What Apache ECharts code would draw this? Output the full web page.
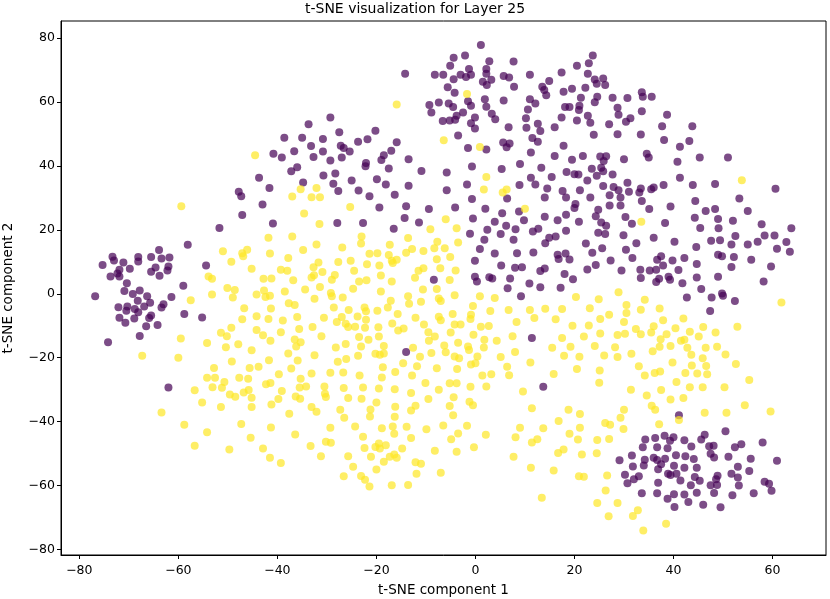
<!DOCTYPE html>
<html>
<head>
<meta charset="utf-8">
<script src="https://cdn.jsdelivr.net/npm/echarts@6/dist/echarts.min.js"></script>
<style>
  html, body { margin: 0; padding: 0; background: #fff; }
  #main { width: 830px; height: 599px; }
</style>
</head>
<body>
<div id="main"></div>
<script>
// t-SNE points, one array per label
const label0 = [
  [-47.8,31.9],[-47.3,30.5],
  [-14.2,68.8],[-8.2,68.5],[-6.5,68.5],[-9.3,59.0],[-7.4,59.8],[-8.9,56.7],[-6.6,54.0],
  [-29.3,55.1],[-33.7,53.0],[-27.5,50.5],[-20.2,51.0],[-38.6,48.8],[-35.0,48.8],[-30.8,48.4],[-21.8,48.3],[-23.7,47.5],[-15.9,47.4],
  [-33.2,46.2],[-27.2,46.3],[-26.6,45.6],[-25.4,44.5],[-36.6,44.6],[-30.8,44.5],[-40.8,43.8],[-39.1,42.6],[-32.7,42.8],[-29.3,41.7],[-27.0,42.6],
  [-17.0,44.7],[-18.5,43.3],[-19.0,41.8],[-13.5,42.1],[-22.1,40.9],[-22.2,39.9],[-17.5,39.2],[-10.9,38.4],[-36.0,39.6],[-37.2,38.3],
  [-43.7,36.3],[-30.7,37.0],[-28.3,37.6],[-25.0,35.4],[-19.9,35.8],[-34.8,34.8],[-28.7,34.4],[-18.1,34.2],[-13.5,33.8],[-41.6,33.1],
  [-27.7,32.1],[-23.6,32.3],[-21.4,30.5],[-16.3,31.0],
  [1.1,77.8],[-4.4,73.8],[-2.1,74.5],[-5.1,71.3],[2.8,72.7],[7.7,72.6],[-1.3,70.3],[2.2,70.3],[-3.0,68.5],[-0.9,68.5],
  [2.2,68.8],[-1.9,67.8],[5.7,68.1],[6.8,67.6],[11.0,68.5],[-4.4,67.1],[1.5,66.3],[3.2,66.9],[2.3,65.3],[-5.6,64.6],
  [7.8,64.7],[14.9,66.5],[13.5,64.7],[13.9,63.7],[14.3,62.1],[17.4,69.2],[20.5,71.3],[23.7,74.5],[22.9,72.1],[22.7,68.8],
  [24.1,67.0],[25.8,67.3],[24.5,65.7],[26.2,65.3],[17.8,63.2],[19.5,64.1],[22.2,64.4],[-4.2,62.9],[1.9,60.8],[5.7,60.4],
  [11.0,60.8],[12.1,59.5],[21.3,61.3],[24.6,61.6],[24.1,59.9],[27.7,61.3],[30.7,61.2],[-5.4,59.5],[-4.5,58.4],[-1.5,60.2],
  [-0.9,58.8],[2.2,58.5],[10.6,57.6],[18.1,58.4],[19.0,58.4],[21.0,58.8],[20.9,57.5],[28.7,58.2],[-2.5,56.7],[-3.8,55.7],
  [3.3,56.3],[10.2,54.9],[17.4,55.1],[22.7,55.7],[28.9,56.0],[31.3,54.9],[30.4,53.8],[-5.2,54.2],[-4.1,54.4],[-0.1,55.1],
  [4.0,54.6],[20.5,54.2],[23.2,53.5],[-0.9,53.3],[-0.1,51.7],[6.7,52.1],[10.3,51.9],[12.6,53.2],[13.1,50.9],[16.0,52.1],
  [27.0,53.0],[23.9,49.7],[28.7,49.9],[-3.5,49.5],[11.5,48.7],[12.6,47.5],[5.6,47.3],[6.9,47.0],[6.3,45.8],[-1.5,45.6],
  [2.2,45.1],[11.2,44.2],[17.8,46.3],[16.0,43.1],[19.5,41.9],[21.7,43.1],[25.2,42.9],[26.4,43.0],[25.9,41.5],[30.0,42.1],
  [9.0,40.6],[13.3,39.4],[5.3,39.0],[-0.7,39.8],[-5.8,37.9],[18.4,38.1],[20.0,37.4],[20.8,37.3],[23.5,39.1],[25.4,39.4],
  [25.8,38.3],[27.7,37.3],[24.5,36.9],[11.2,36.3],[15.4,36.5],[22.6,35.4],[30.7,34.7],[12.1,34.2],[8.9,34.0],[-1.7,34.2],
  [-5.8,32.4],[14.5,32.9],[17.6,32.1],[21.1,32.4],[25.8,33.7],[27.9,33.4],[27.1,30.8],[28.9,32.4],[31.0,31.9],[-0.7,29.6],
  [6.4,29.8],[14.0,30.1],[18.3,30.1],[23.2,30.1],[29.3,30.1],
  [33.6,63.0],[33.8,61.6],[35.6,61.6],[33.6,57.1],[38.7,56.0],[37.7,52.4],[43.8,52.4],[33.4,49.8],[38.1,48.1],[41.3,46.0],
  [43.2,47.8],[34.6,43.8],[35.0,42.6],[40.8,41.3],[45.3,42.6],[51.0,42.6],[41.3,36.3],[38.0,34.0],[43.9,34.0],[48.4,34.3],
  [60.6,32.8],[33.4,32.9],[33.1,31.7],[35.5,32.7],[36.0,33.2],[53.3,29.8],[44.4,29.0],[33.6,29.0],
  [-47.1,24.6],[-51.7,20.6],[-58.1,15.3],[-73.3,11.6],[-73.0,10.4],[-75.3,9.0],[-71.1,9.8],[-68.1,11.5],[-68.1,10.1],[-65.5,11.5],
  [-63.9,13.7],[-63.4,11.0],[-61.8,11.3],[-69.8,7.8],[-71.9,7.5],[-72.3,6.3],[-73.7,5.4],[-71.9,5.4],[-65.5,6.9],[-64.6,8.2],
  [-62.0,8.5],[-62.2,7.3],[-63.8,5.6],[-54.4,8.8],[-70.4,3.3],[-59.0,2.5],[-70.9,0.9],[-67.8,1.0],[-69.2,-0.1],[-66.3,-0.8],
  [-76.8,-0.8],[-61.4,-1.0],[-68.2,-2.2],[-65.7,-2.8],[-63.0,-3.3],[-63.4,-4.3],[-72.1,-4.2],[-70.3,-4.0],[-66.9,-4.0],[-70.5,-5.3],
  [-68.8,-4.8],[-68.1,-5.8],[-65.5,-6.8],[-65.9,-7.6],[-71.9,-7.5],[-68.9,-7.7],[-70.7,-9.1],[-66.5,-10.2],[-64.2,-9.8],[-58.8,-6.3],
  [-55.2,-7.4],[-67.8,-13.2],[-74.2,-15.2],
  [-43.0,27.9],[-40.9,22.0],[-27.9,22.1],[-22.7,22.1],[-19.4,27.0],[-14.0,27.4],[-14.3,23.7],[-9.4,26.5],[-11.4,22.3],[-16.5,20.3],
  [-8.4,4.4],[-14.0,-18.2],
  [-4.1,27.0],[2.0,26.6],[5.4,25.2],[8.8,25.7],[20.2,28.1],[20.0,26.8],[24.8,26.3],[27.1,27.6],[29.3,27.6],
  [-0.5,23.5],[3.9,22.5],[6.2,21.3],[9.8,23.0],[14.0,24.1],[16.6,23.0],[18.3,24.7],[20.9,22.5],[24.3,24.2],[25.4,22.3],
  [26.4,21.3],[30.3,24.0],[31.6,21.9],[-1.1,18.8],[2.4,20.0],[5.1,18.7],[8.1,20.2],[11.6,19.5],[12.7,20.3],[18.3,19.7],
  [24.8,19.1],[26.2,18.7],[29.9,18.3],[1.8,16.9],[7.7,16.9],[14.9,17.5],[16.2,17.9],[14.1,15.8],[22.3,15.7],[25.6,14.2],
  [23.6,12.8],[30.4,13.8],[0.9,14.0],[3.9,12.6],[8.4,12.7],[11.7,12.9],[16.6,12.2],[18.2,12.6],[16.8,10.9],[19.0,10.7],
  [31.7,11.2],[-0.1,10.3],[5.2,8.8],[8.0,8.1],[9.4,8.3],[13.1,7.1],[14.0,7.9],[18.0,6.2],[19.7,4.5],[22.6,7.6],
  [24.3,9.0],[27.3,10.4],[29.5,7.3],[-0.1,5.3],[0.3,3.8],[2.8,5.2],[3.4,4.8],[7.0,4.8],[10.9,3.2],[6.5,1.7],
  [13.1,2.0],[17.2,1.9],[9.2,-0.8],[11.4,-13.8],
  [35.1,26.5],[39.4,27.3],[46.5,25.9],[48.4,26.5],[49.0,23.4],[55.0,25.9],[44.3,23.8],[52.0,22.8],[38.3,22.1],[45.4,20.6],
  [49.1,20.5],[57.8,21.7],[63.8,20.5],[36.0,17.5],[40.2,16.3],[47.6,16.6],[49.4,16.7],[52.5,18.1],[51.7,15.4],[55.0,15.4],
  [57.0,16.3],[58.4,18.2],[60.4,18.2],[62.8,16.2],[60.9,14.1],[63.5,13.1],[32.5,15.8],[44.6,14.6],[49.0,12.2],[49.8,11.7],
  [52.2,11.5],[55.7,10.6],[59.7,8.5],[51.7,8.4],[37.5,11.7],[36.7,10.6],[39.8,10.4],[42.2,11.2],[44.7,9.3],
  [37.9,8.8],[33.3,7.5],[35.2,7.3],[36.5,7.5],[41.0,7.4],[33.4,4.9],[37.1,4.7],[36.5,3.7],[39.0,5.3],[39.3,4.4],
  [41.8,3.3],[44.7,5.1],[49.0,5.3],[58.2,3.8],[45.6,1.5],[49.8,0.1],[50.0,-0.6],[47.7,-1.2],[42.7,-1.2],[52.4,-2.3],
  [47.4,-5.4],
  [-62.0,-29.3],[13.7,-29.1],[29.1,-52.1],[31.6,-50.6],[31.8,-54.0],[30.2,-56.6],[30.7,-59.3],[32.0,-58.0],[41.1,-38.0],[50.5,-43.0],
  [46.3,-44.1],[34.3,-45.6],[36.3,-45.1],[38.2,-44.4],[40.0,-44.9],[39.3,-46.0],[42.2,-45.8],[45.6,-45.6],[58.0,-46.5],[33.8,-48.0],
  [36.7,-48.0],[38.8,-48.3],[43.6,-47.8],[47.2,-47.7],[48.1,-47.5],[52.4,-48.0],[53.7,-47.1],[34.2,-51.9],[36.0,-51.3],[36.7,-52.0],
  [38.3,-51.6],[40.5,-50.5],[42.4,-50.8],[44.1,-51.7],[47.5,-50.0],[48.2,-51.2],[51.1,-51.0],[55.6,-51.6],[60.9,-52.2],[34.0,-53.7],
  [36.9,-54.9],[37.5,-53.3],[40.1,-53.8],[42.2,-54.4],[44.7,-54.4],[53.0,-54.1],[55.3,-55.4],[33.0,-57.1],[38.9,-56.3],[39.4,-56.7],
  [40.6,-56.3],[44.3,-57.3],[48.9,-56.9],[48.6,-58.0],[51.7,-56.3],[41.4,-58.4],[45.3,-58.5],[53.0,-57.5],[36.9,-59.1],[43.5,-59.9],
  [47.5,-59.9],[48.8,-59.8],[53.2,-60.0],[58.4,-58.8],[59.3,-59.4],[59.8,-61.6],[33.6,-62.4],[36.7,-62.4],[40.1,-62.7],[42.2,-62.8],
  [44.7,-62.2],[48.2,-62.3],[51.9,-63.0],[56.2,-62.4],[38.8,-64.1],[43.0,-65.1],[40.2,-66.7],[46.0,-66.0],[49.5,-66.8]
];

const label1 = [
  [-15.9,59.2],[-6.4,48.0],[-44.5,43.3],[-32.1,33.1],[-35.3,32.7],[-37.0,30.4],[-33.1,30.2],[-31.4,30.2],
  [-1.7,62.5],[0.9,45.9],[2.2,36.5],[1.7,32.6],[6.3,32.6],[5.5,31.7],[53.8,35.5],
  [-59.4,27.4],[-51.0,13.3],[-49.3,10.0],[-47.1,12.7],[-46.1,13.8],[-46.9,11.7],[-45.2,7.8],[-53.9,5.4],[-53.2,4.7],[-50.1,1.8],
  [-48.6,1.2],[-49.0,-1.2],[-53.2,-0.2],[-57.5,-2.0],[-46.7,-4.5],[-47.1,-8.0],[-49.3,-10.6],[-51.4,-12.2],[-50.2,-13.3],[-59.5,-14.0],
  [-54.2,-15.4],[-50.4,-16.7],[-47.9,-15.8],[-45.2,-17.7],[-67.3,-19.4],[-60.0,-20.0],[-49.2,-21.2],[-52.8,-23.2],[-45.6,-23.2],[-54.2,-26.3],
  [-52.6,-26.3],[-47.7,-26.3],[-45.9,-26.6],
  [-34.6,25.1],[-25.3,27.1],[-31.5,21.8],[-41.8,17.5],[-37.0,17.9],[-32.1,15.4],[-26.9,14.5],[-23.0,17.9],[-23.1,15.7],[-17.3,15.3],
  [-13.6,17.4],[-9.1,20.2],[-7.7,16.3],[-41.5,12.6],[-34.8,13.7],[-21.4,12.5],[-19.8,12.7],[-17.5,12.1],[-14.0,12.8],[-12.8,14.0],
  [-10.5,13.4],[-8.3,14.2],[-37.8,11.2],[-27.7,9.9],[-25.2,10.3],[-31.7,9.8],[-21.9,9.2],[-19.4,8.8],[-16.9,10.3],[-15.9,10.6],
  [-16.7,9.6],[-7.8,10.8],[-39.3,7.5],[-38.0,7.2],[-32.7,8.3],[-30.9,6.8],[-24.5,7.2],[-28.4,5.9],[-19.1,5.7],[-11.5,7.2],
  [-10.5,8.0],[-7.1,8.0],[-42.8,4.7],[-41.2,4.8],[-36.8,4.2],[-33.1,5.1],[-32.6,5.8],[-29.0,4.4],[-23.5,3.8],[-22.0,4.2],
  [-16.9,3.8],[-12.2,5.0],[-31.4,2.1],[-24.7,1.6],[-34.4,1.3],[-38.5,0.7],[-19.1,0.7],[-10.6,1.3],[-7.8,1.5],[-44.2,-0.2],
  [-42.7,1.0],[-42.4,-1.0],[-41.5,-0.6],[-29.2,0.2],[-29.0,-0.8],[-26.8,-1.2],[-32.5,-1.6],[-13.6,-0.8],[-7.4,-1.5],[-17.1,-2.2],
  [-13.4,-3.1],[-11.0,-2.5],[-7.0,-2.3],[-37.7,-3.0],[-36.5,-3.5],[-41.3,-4.6],[-28.6,-4.3],[-25.6,-5.1],[-22.4,-4.3],[-22.1,-5.5],
  [-19.8,-5.3],[-17.7,-4.3],[-44.2,-7.0],[-41.8,-7.9],[-38.9,-8.4],[-36.0,-7.3],[-30.6,-7.5],[-27.0,-7.3],[-23.8,-7.1],[-22.1,-8.1],
  [-15.7,-6.3],[-12.1,-7.5],[-7.4,-7.2],[-28.0,-8.8],[-26.2,-9.4],[-25.7,-10.4],[-24.3,-10.3],[-22.3,-10.6],[-19.6,-10.5],[-16.8,-9.3],
  [-15.6,-11.5],[-14.5,-10.9],[-10.4,-9.6],[-7.0,-8.3],[-44.2,-11.3],[-42.9,-13.0],[-39.3,-12.0],[-35.6,-11.0],[-32.9,-10.4],[-31.1,-13.3],
  [-36.5,-14.3],[-41.4,-14.7],[-23.5,-13.5],[-21.6,-14.4],[-19.5,-13.4],[-9.5,-12.0],[-9.4,-14.7],[-8.2,-13.4],[-36.2,-16.5],[-35.3,-15.2],
  [-28.2,-16.8],[-26.2,-15.7],[-23.1,-16.5],[-18.5,-16.3],[-12.6,-16.9],[-6.3,-16.2],[-37.8,-18.7],[-32.5,-19.2],[-23.7,-19.4],[-20.2,-18.8],
  [-19.3,-19.1],[-18.5,-18.7],[-11.2,-19.7],[-8.9,-18.5],[-41.7,-20.8],[-35.9,-20.9],[-27.8,-21.3],[-26.1,-20.4],[-18.7,-23.0],[-14.6,-21.7],
  [-11.8,-22.7],[-7.8,-23.3],[-43.8,-22.8],[-37.2,-23.4],[-39.7,-25.2],[-35.3,-26.6],[-33.1,-24.9],[-29.3,-24.7],[-26.7,-24.6],[-23.4,-25.6],
  [-18.9,-26.2],[-16.2,-24.5],[-12.8,-25.6],
  [10.0,26.6],[-6.0,23.3],[-3.8,20.5],[-3.5,16.0],[-6.2,14.2],[-5.1,11.5],[-4.0,7.3],[-5.2,4.3],[-4.2,-0.5],[0.9,-0.8],
  [3.9,-1.3],[20.3,-1.0],[24.9,-1.7],[28.9,0.5],[-0.5,-3.8],[3.0,-5.4],[6.7,-5.1],[11.0,-5.1],[14.1,-4.7],[17.5,-4.8],
  [23.1,-4.5],[30.5,-3.5],[-4.6,-6.3],[-0.9,-6.6],[-1.0,-7.9],[11.9,-7.6],[16.2,-8.0],[27.0,-6.6],[30.5,-6.0],[25.2,-7.9],
  [8.3,-8.8],[-4.2,-9.6],[-3.0,-9.6],[1.1,-10.3],[2.7,-10.1],[19.6,-10.0],[22.9,-9.9],[30.0,-8.8],[-5.0,-12.1],[-0.4,-12.8],
  [7.5,-13.3],[17.5,-13.8],[21.9,-13.4],[25.2,-12.4],[28.7,-12.9],[30.2,-12.5],[-3.5,-15.3],[1.8,-14.4],[4.3,-14.7],
  [-1.5,-16.5],[1.7,-16.8],[15.5,-16.9],[19.2,-16.6],[24.1,-16.3],[28.2,-16.7],[-6.0,-18.3],[-1.3,-17.6],[8.0,-18.2],[-4.2,-19.6],
  [-3.3,-20.2],[0.4,-19.6],[5.1,-19.8],[17.9,-19.4],[21.0,-19.7],[26.0,-19.3],[28.7,-19.8],[31.5,-18.8],[-0.9,-22.1],[0.0,-21.7],
  [6.4,-22.8],[11.1,-21.5],[-3.7,-23.5],[20.5,-23.5],[25.1,-24.0],[1.4,-25.6],[3.2,-25.2],[6.8,-25.5],[15.8,-25.1],
  [33.5,22.5],[61.8,-2.7],[34.2,-1.9],[33.4,-5.0],[37.2,-4.6],[37.9,-8.3],[42.0,-7.7],[52.9,-10.3],[46.0,-10.4],[36.0,-10.2],
  [32.4,-11.0],[35.5,-12.1],[33.4,-12.7],[40.4,-10.8],[43.3,-11.9],[38.6,-12.7],[48.5,-12.1],[45.1,-13.4],[37.4,-14.2],[41.5,-14.7],
  [42.2,-14.4],[37.2,-16.6],[39.4,-16.3],[42.8,-16.9],[46.5,-16.9],[48.8,-16.6],[35.8,-18.0],[43.6,-19.1],[50.5,-19.0],[45.9,-20.2],
  [39.8,-21.5],[43.7,-22.4],[46.6,-22.6],[52.6,-22.0],[33.0,-22.7],[36.2,-24.8],[37.3,-24.3],[34.2,-25.6],[42.4,-24.8],[44.8,-24.9],
  [46.8,-25.2],
  [-56.7,-30.2],[-53.1,-29.2],[-51.2,-29.4],[-50.7,-27.6],[-49.6,-31.5],[-48.5,-32.2],[-46.8,-30.9],[-45.8,-30.1],[-45.2,-32.5],[-55.2,-34.0],
  [-51.4,-35.4],[-45.2,-35.4],[-63.4,-37.1],[-58.8,-41.0],[-47.3,-40.7],[-54.2,-43.3],[-45.4,-45.0],[-56.7,-47.5],[-49.7,-48.7],
  [-42.3,-28.3],[-41.4,-27.9],[-35.5,-29.3],[-34.2,-29.0],[-39.1,-30.4],[-30.5,-29.0],[-30.4,-31.3],[-30.2,-32.3],[-26.6,-29.5],[-22.7,-29.3],
  [-19.5,-29.6],[-16.3,-29.9],[-13.0,-31.0],[-10.1,-27.9],[-7.4,-30.0],[-39.8,-32.9],[-36.3,-32.1],[-35.4,-32.8],[-25.7,-32.6],[-23.0,-32.8],
  [-20.0,-34.0],[-9.5,-32.9],[-41.2,-34.6],[-37.6,-37.5],[-33.1,-35.4],[-32.1,-36.9],[-27.3,-36.3],[-26.5,-38.8],[-21.2,-36.2],[-21.3,-38.4],
  [-16.2,-35.3],[-16.3,-38.5],[-13.0,-36.5],[-12.1,-35.0],[-41.3,-41.8],[-36.4,-44.0],[-29.3,-41.9],[-24.3,-41.5],[-18.9,-42.1],[-16.7,-41.5],
  [-16.4,-43.8],[-13.9,-41.6],[-9.9,-42.4],[-6.5,-41.2],[-22.7,-44.7],[-13.0,-45.1],[-30.2,-46.3],[-29.2,-46.6],[-42.9,-48.4],[-33.3,-47.6],
  [-22.4,-48.2],[-20.2,-47.9],[-19.5,-46.8],[-19.3,-48.4],[-18.1,-47.4],[-14.8,-48.4],[-8.2,-49.1],[-41.5,-51.3],[-39.3,-52.9],[-31.2,-50.8],
  [-25.7,-50.8],[-21.1,-51.0],[-18.5,-52.5],[-17.3,-51.0],[-16.4,-50.3],[-15.9,-51.3],[-12.1,-52.7],[-11.0,-53.2],[-24.7,-54.1],[-20.0,-55.0],
  [-26.6,-57.1],[-23.1,-57.0],[-22.3,-58.2],[-21.4,-60.3],[-16.9,-59.9],[-13.6,-59.8],[-11.9,-56.3],[-7.0,-56.0],
  [-5.2,-28.0],[-3.8,-28.0],[-1.0,-29.1],[2.2,-29.0],[9.6,-30.6],[25.0,-27.8],[31.4,-30.0],[-4.4,-32.4],[-1.2,-33.8],[-0.5,-34.9],
  [-5.2,-35.1],[11.4,-35.8],[18.8,-36.3],[21.1,-37.6],[30.0,-36.3],[29.3,-38.8],[-4.5,-38.0],[16.8,-39.8],[26.2,-40.4],[27.2,-41.0],
  [-1.7,-41.3],[9.0,-41.9],[13.7,-42.1],[21.1,-41.9],[29.9,-42.3],[-3.5,-43.7],[2.1,-44.1],[19.0,-43.8],[-4.9,-45.5],[8.1,-44.9],
  [11.4,-46.5],[12.5,-45.5],[20.7,-45.6],[24.6,-45.7],[27.0,-45.4],[-3.8,-49.4],[-0.3,-48.0],[16.7,-49.8],[17.8,-48.7],[21.5,-50.3],
  [24.5,-49.9],[7.7,-51.0],[11.2,-54.4],[15.8,-55.3],[20.9,-57.1],[21.9,-57.2],[26.6,-56.8],[26.3,-61.5],[13.4,-63.8],[24.6,-65.4],
  [28.7,-65.4],[26.9,-69.6],[31.8,-69.5],
  [40.6,-27.6],[45.9,-29.2],[43.3,-29.2],[50.3,-29.2],[55.3,-27.0],[34.6,-31.8],[37.5,-30.1],[39.4,-33.1],[42.0,-32.6],[35.6,-35.0],
  [36.3,-36.3],[46.3,-37.2],[50.7,-37.2],[54.4,-34.9],[59.6,-36.8],[37.1,-40.8],[41.1,-39.5],[32.8,-67.7],[38.5,-71.9],[33.9,-74.0]
];

const xTicks = [-80, -60, -40, -20, 0, 20, 40, 60];
const yTicks = [-80, -60, -40, -20, 0, 20, 40, 60, 80];

const main = document.getElementById('main');
let myChart = echarts.init(main, null, { renderer: 'canvas' });

const font = 'DejaVu Sans';
const minusFmt = (v) => (v < 0 ? '\u2212' + Math.abs(v) : String(v));

const option = {
  animation: false,
  backgroundColor: '#fff',
  title: {
    text: 't-SNE visualization for Layer 25',
    left: 'center',
    top: 2,
    padding: [0, 0, 0, 58],
    textStyle: { fontFamily: font, fontSize: 14, fontWeight: 'normal', color: '#000' },
  },
  grid: {
    left: 61,
    right: 4,
    top: 21,
    bottom: 44,
    containLabel: false,
    outerBoundsMode: 'none',
    show: true,
    borderColor: '#000',
    borderWidth: 1,
    backgroundColor: 'transparent',
  },
  xAxis: {
    type: 'value',
    min: -83.7,
    max: 70.8,
    name: 't-SNE component 1',
    nameLocation: 'middle',
    nameGap: 28,
    nameTextStyle: { fontFamily: font, fontSize: 13.5, color: '#000' },
    axisLine: { show: true, onZero: false, lineStyle: { color: '#000', width: 1 } },
    axisTick: { show: true, length: 4, customValues: xTicks, lineStyle: { color: '#000' } },
    axisLabel: {
      customValues: xTicks,
      margin: 9,
      fontFamily: font,
      fontSize: 12.5,
      color: '#000',
      formatter: minusFmt,
    },
    splitLine: { show: false },
  },
  yAxis: {
    type: 'value',
    min: -81.7,
    max: 85.3,
    name: 't-SNE component 2',
    nameLocation: 'middle',
    nameGap: 46,
    nameTextStyle: { fontFamily: font, fontSize: 13.5, color: '#000' },
    axisLine: { show: true, onZero: false, lineStyle: { color: '#000', width: 1 } },
    axisTick: { show: true, length: 4, customValues: yTicks, lineStyle: { color: '#000' } },
    axisLabel: {
      customValues: yTicks,
      margin: 6,
      fontFamily: font,
      fontSize: 12.5,
      color: '#000',
      formatter: minusFmt,
    },
    splitLine: { show: false },
  },
  series: [
    {
      name: 'label 0',
      type: 'scatter',
      data: label0,
      symbol: 'circle',
      symbolSize: 8,
      itemStyle: { color: '#440154', opacity: 0.7 },
    },
    {
      name: 'label 1',
      type: 'scatter',
      data: label1,
      symbol: 'circle',
      symbolSize: 8,
      itemStyle: { color: '#fde725', opacity: 0.7 },
    },
  ],
};

myChart.setOption(option);
</script>
</body>
</html>
